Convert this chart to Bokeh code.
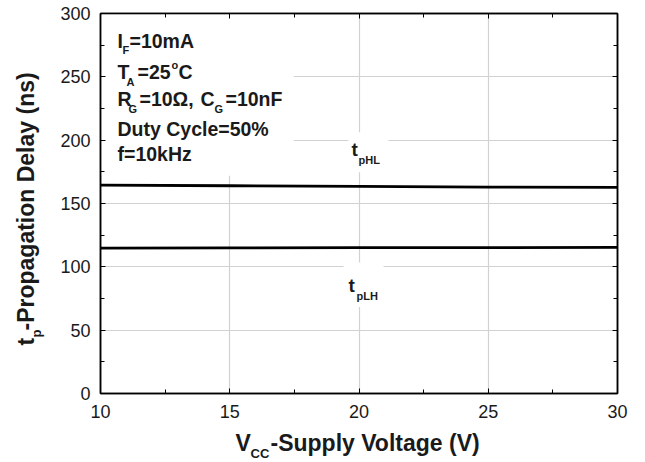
import math
from bokeh.plotting import figure
from bokeh.models import Label, LinearAxis, SingleIntervalTicker, Range1d
from bokeh.layouts import column, row
from bokeh.embed import file_html
from bokeh.resources import INLINE

# ---- data ----
vcc = [10, 15, 20, 25, 30]
tphl = [164.5, 164.0, 163.5, 163.0, 162.7]
tplh = [114.8, 115.0, 115.1, 115.2, 115.3]
x_major = 5
y_major = 50
x_tick_values = [10, 15, 20, 25, 30]
y_tick_values = [0, 50, 100, 150, 200, 250, 300]

FONT = "Liberation Sans"
INK = "#1a1a1a"
K = 0.33            # baseline correction (fraction of font size)

YT_W = 48
MAIN_W = 589
MAIN_H = 429
XT_H = 33

p = figure(width=MAIN_W, height=MAIN_H, x_range=Range1d(10, 30), y_range=Range1d(0, 300),
           output_backend="svg", toolbar_location=None,
           min_border_left=52, min_border_right=20, min_border_top=13, min_border_bottom=36,
           background_fill_color="white", border_fill_color="white")

p.outline_line_color = "black"
p.outline_line_width = 1.5

p.xgrid.ticker = SingleIntervalTicker(interval=x_major)
p.ygrid.ticker = SingleIntervalTicker(interval=y_major)
for g in (p.xgrid, p.ygrid):
    g.grid_line_color = "#d2d2d2"
    g.grid_line_width = 1.2

def style_axis(ax, blank_ticks=None):
    ax.axis_line_color = "black"
    ax.axis_line_width = 1.5
    ax.major_tick_in = 5
    ax.major_tick_out = 0
    ax.minor_tick_in = 4
    ax.minor_tick_out = 0
    ax.major_tick_line_color = "black"
    ax.minor_tick_line_color = "black"
    ax.major_label_text_font = FONT
    ax.major_label_text_font_size = "18px"
    ax.major_label_text_color = INK
    if blank_ticks is not None:
        ax.major_label_overrides = {v: "" for v in blank_ticks}
        ax.major_label_standoff = 0

p.xaxis.ticker = SingleIntervalTicker(interval=x_major, num_minor_ticks=2)
p.yaxis.ticker = SingleIntervalTicker(interval=y_major, num_minor_ticks=2)
style_axis(p.xaxis[0])
style_axis(p.yaxis[0])
p.xaxis.major_label_standoff = 11
p.yaxis.major_label_standoff = 10

top_ax = LinearAxis(ticker=SingleIntervalTicker(interval=x_major, num_minor_ticks=2))
right_ax = LinearAxis(ticker=SingleIntervalTicker(interval=y_major, num_minor_ticks=2))
style_axis(top_ax, blank_ticks=x_tick_values)
style_axis(right_ax, blank_ticks=y_tick_values)
p.add_layout(top_ax, "above")
p.add_layout(right_ax, "right")

# white backgrounds behind the annotation texts (they interrupt the grid lines)
p.quad(left=[10.05, 19.59, 19.40], right=[17.47, 21.14, 20.95],
       bottom=[172, 174.6, 68.3], top=[299.5, 206.3, 103.5],
       fill_color="white", line_color=None)

# curves
p.line(vcc, tphl, line_color="black", line_width=2.8)
p.line(vcc, tplh, line_color="black", line_width=2.8)

def lab(fig, x, y, text, size, rotated=False):
    # x, y: baseline start, frame-relative (y upward)
    if rotated:
        x, angle = x - K * size, math.pi / 2
    else:
        y, angle = y + K * size, 0
    fig.add_layout(Label(x=x, y=y, x_units="screen", y_units="screen", text=text,
                         text_font=FONT, text_font_size=f"{size}px", text_font_style="bold",
                         text_color=INK, text_baseline="alphabetic", text_align="left",
                         angle=angle))

# condition block
S, s = 19.5, 11
lab(p, 17, 346, "I", S); lab(p, 22, 340, "F", s); lab(p, 29, 346, "=10mA", S)
lab(p, 17, 315, "T", S); lab(p, 26, 308, "A", s); lab(p, 37, 315, "=25", S)
lab(p, 71, 325, "o", s); lab(p, 78, 315, "C", S)
lab(p, 17, 288, "R", S); lab(p, 28, 281, "G", s); lab(p, 39, 288, "=10\u03a9,", S)
lab(p, 100, 288, "C", S); lab(p, 114, 281, "G", s); lab(p, 125, 288, "=10nF", S)
lab(p, 17, 258, "Duty Cycle=50%", S)
lab(p, 17, 233, "f=10kHz", S)

# curve labels
lab(p, 251, 238, "t", 19); lab(p, 258, 230, "pHL", 11)
lab(p, 248, 102, "t", 19); lab(p, 256, 94, "pLH", 11)

def strip(w, h):
    f = figure(width=w, height=h, x_range=Range1d(0, 1), y_range=Range1d(0, 1),
               x_axis_type=None, y_axis_type=None, output_backend="svg",
               toolbar_location=None, min_border=0,
               background_fill_color="white", border_fill_color="white")
    f.outline_line_color = None
    f.grid.visible = False
    return f

# y-axis title strip
yt = strip(YT_W, MAIN_H)
lab(yt, 33, 48, "t", 23, rotated=True)
lab(yt, 40, 56, "p", 13, rotated=True)
lab(yt, 33, 63, "-Propagation Delay (ns)", 23, rotated=True)

# x-axis title strip
xt = strip(YT_W + MAIN_W, XT_H)
lab(xt, 235, 12, "V", 23); lab(xt, 250, 5, "CC", 13); lab(xt, 270, 12, "-Supply Voltage (V)", 23)

layout = column(row(yt, p, spacing=0), xt, spacing=0)
open("out.html", "w").write(file_html(layout, INLINE))
